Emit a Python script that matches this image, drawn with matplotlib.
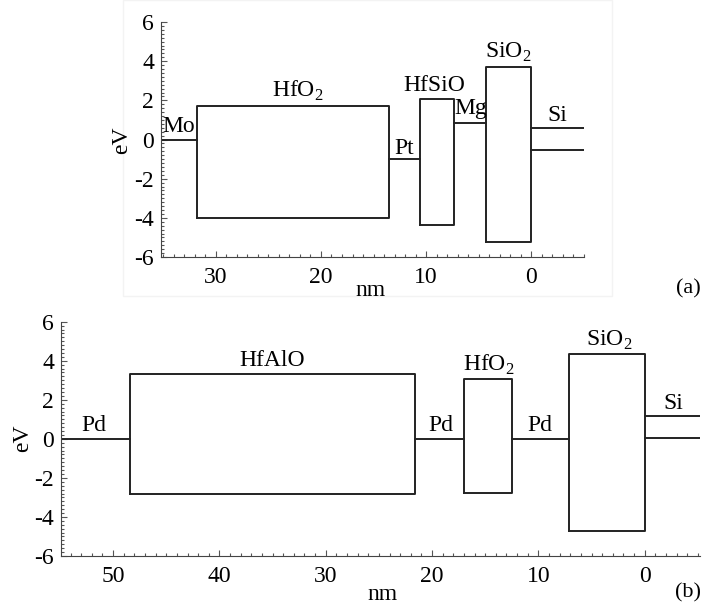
import matplotlib.pyplot as plt
from matplotlib.patches import Rectangle
from matplotlib.ticker import MultipleLocator

plt.rcParams['font.family'] = ['Liberation Serif', 'DejaVu Serif']
plt.rcParams['mathtext.fontset'] = 'custom'
plt.rcParams['mathtext.rm'] = 'Liberation Serif'
plt.rcParams['axes.unicode_minus'] = False

# ---- données panneau (a) ----
# couches: (nom, x_gauche, x_droite, haut, bas)  -- x en nm, axe inversé
a_layers = [
    ('Mo', 35.2, 31.8, 0.0, 0.0),
    ('HfO$_2$', 31.8, 13.55, 1.72, -4.03),
    ('Pt', 13.55, 10.6, -1.0, -1.0),
    ('HfSiO', 10.6, 7.33, 2.08, -4.38),
    ('Mg', 7.33, 4.3, 0.85, 0.85),
    ('SiO$_2$', 4.3, 0.0, 3.72, -5.24),
]
a_si = (0.0, -5.0, 0.61, -0.55)   # x0, x1, bande de conduction, bande de valence
a_labels = [('Mo', 33.5, 0.40), ('HfO$_2$', 22.2, 2.17), ('Pt', 12.1, -0.73),
            ('HfSiO', 9.24, 2.5), ('Mg', 5.8, 1.29), ('SiO$_2$', 2.2, 4.15),
            ('Si', -2.45, 0.96)]
a_xticks = [30, 20, 10, 0]

# ---- données panneau (b) ----
b_layers = [
    ('Pd', 54.9, 48.4, 0.0, 0.0),
    ('HfAlO', 48.4, 21.6, 3.32, -2.81),
    ('Pd', 21.6, 17.0, 0.0, 0.0),
    ('HfO$_2$', 17.0, 12.5, 3.08, -2.78),
    ('Pd', 12.5, 7.1, 0.0, 0.0),
    ('SiO$_2$', 7.1, 0.0, 4.35, -4.73),
]
b_si = (0.0, -5.2, 1.17, 0.04)
b_labels = [('Pd', 51.85, 0.38), ('HfAlO', 35.0, 3.72), ('Pd', 19.14, 0.38),
            ('HfO$_2$', 14.7, 3.51), ('Pd', 9.84, 0.38), ('SiO$_2$', 3.38, 4.78),
            ('Si', -2.7, 1.54)]
b_xticks = [50, 40, 30, 20, 10, 0]
yticks = [-6, -4, -2, 0, 2, 4, 6]

LC = '#222222'


def draw_band(ax, layers, si, labels, xlim, xticks):
    for name, x0, x1, top, bot in layers:
        if top == bot:
            ax.plot([x0, x1], [top, top], color=LC, lw=1.4)
        else:
            ax.plot([x0, x0, x1, x1, x0], [bot, top, top, bot, bot],
                    color=LC, lw=1.4)
    sx0, sx1, cb, vb = si
    ax.plot([sx0, sx1], [cb, cb], color=LC, lw=1.4)
    ax.plot([sx0, sx1], [vb, vb], color=LC, lw=1.4)
    for txt, x, y in labels:
        ax.text(x, y, txt, ha='center', va='baseline', fontsize=17)
    ax.set_xlim(xlim)
    ax.set_ylim(-6, 6)
    ax.set_xticks(xticks)
    ax.set_yticks(yticks)
    ax.xaxis.set_minor_locator(MultipleLocator(1))
    ax.yaxis.set_minor_locator(MultipleLocator(0.2))
    ax.tick_params(which='both', direction='in', labelsize=17, width=0.8,
                   color='#555555')
    ax.tick_params(which='major', length=4)
    ax.tick_params(which='minor', length=2.5)
    ax.tick_params(axis='x', pad=7)
    ax.tick_params(axis='y', pad=5)
    ax.spines['top'].set_visible(False)
    ax.spines['right'].set_visible(False)
    ax.spines['left'].set_color('#444444')
    ax.spines['bottom'].set_color('#444444')


fig = plt.figure(figsize=(7.04, 6.08), dpi=100)

# cadre très léger autour du panneau (a)
fig.patches.append(Rectangle((123 / 704, 1 - 296 / 608), (612 - 123) / 704, 296 / 608,
                             transform=fig.transFigure, fill=False,
                             edgecolor='#f3f3f3', lw=1))

ax1 = fig.add_axes([161 / 704, 1 - 257 / 608, 423 / 704, 235 / 608])
draw_band(ax1, a_layers, a_si, a_labels, (35.2, -5.0), a_xticks)

ax2 = fig.add_axes([61 / 704, 1 - 556 / 608, 639 / 704, 234.3 / 608])
draw_band(ax2, b_layers, b_si, b_labels, (54.9, -5.2), b_xticks)

# titres d'axes placés en coordonnées figure
fig.text(370 / 704, 1 - 290 / 608, 'nm', ha='center', va='center', fontsize=17)
fig.text(382 / 704, 1 - 594 / 608, 'nm', ha='center', va='center', fontsize=17)
fig.text(122 / 704, 1 - 140 / 608, 'eV', ha='center', va='center', fontsize=17,
         rotation=90)
fig.text(23 / 704, 1 - 438 / 608, 'eV', ha='center', va='center', fontsize=17,
         rotation=90)

fig.text(688 / 704, 1 - 289 / 608, '(a)', ha='center', va='center', fontsize=16)
fig.text(688 / 704, 1 - 593 / 608, '(b)', ha='center', va='center', fontsize=16)

plt.savefig('out.png', dpi=100)
